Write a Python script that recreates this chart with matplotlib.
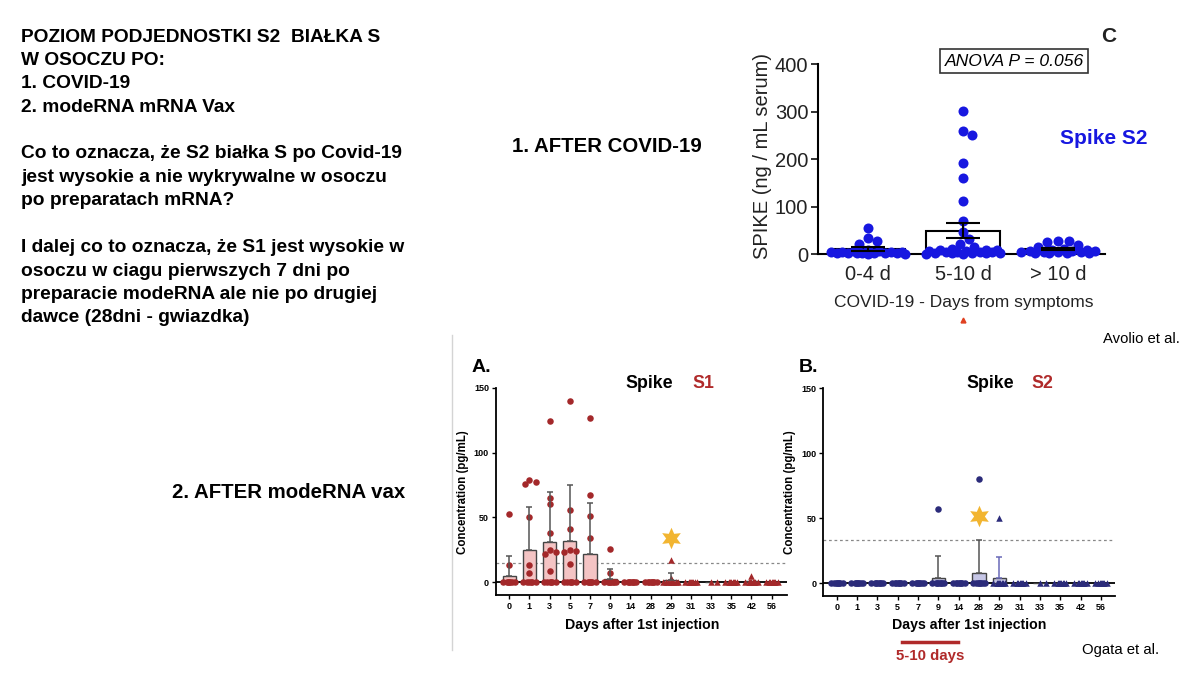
import numpy as np
import matplotlib
matplotlib.use('Agg')
import matplotlib.pyplot as plt
from matplotlib.lines import Line2D

plt.rcParams['font.family'] = ['Liberation Sans', 'DejaVu Sans']

# ---- data ----
intro_lines = [
    'POZIOM PODJEDNOSTKI S2  BIAŁKA S',
    'W OSOCZU PO:',
    '1. COVID-19',
    '2. modeRNA mRNA Vax',
    '',
    'Co to oznacza, że S2 białka S po Covid-19',
    'jest wysokie a nie wykrywalne w osoczu',
    'po preparatach mRNA?',
    '',
    'I dalej co to oznacza, że S1 jest wysokie w',
    'osoczu w ciagu pierwszych 7 dni po',
    'preparacie modeRNA ale nie po drugiej',
    'dawce (28dni - gwiazdka)',
]

covid_groups = ['0-4 d', '5-10 d', '> 10 d']
covid_0_4 = [55, 35, 27, 22, 8, 7, 6, 5, 5, 4, 4, 3, 3, 3, 2, 2, 2, 2, 1, 1]
covid_5_10 = [302, 260, 252, 192, 160, 113, 70, 47, 32, 22, 15, 12, 10, 8, 8, 7,
              6, 5, 5, 4, 4, 3, 3, 2, 2, 2, 1, 1]
covid_10p = [28, 27, 25, 20, 15, 12, 10, 8, 7, 6, 6, 5, 5, 4, 4, 3, 3, 2, 2]
covid_mean = [11, 50, 11]
covid_sem = [4, 15, 2]

days = [0, 1, 3, 5, 7, 9, 14, 28, 29, 31, 33, 35, 42, 56]

s1_bar = [5, 25, 31, 32, 22, 2.5, 0, 0, 1.5, 0, 0, 0, 0.8, 0]
s1_whisker = [20, 58, 70, 75, 61, 10, 0, 0, 7, 0, 0, 0, 0, 0]
s1_points = [
    [53, 13] + [0] * 7,
    [79, 77, 76, 50, 13, 7] + [0] * 6,
    [124, 65, 60, 38, 25, 23, 22, 9] + [0] * 6,
    [140, 56, 41, 25, 24, 23, 14] + [0] * 6,
    [127, 67, 51, 34] + [0] * 7,
    [26, 7] + [0] * 8,
    [0] * 8,
    [0] * 8,
    [17, 3] + [0] * 8,
    [0] * 8,
    [0] * 2,
    [0] * 8,
    [5] + [0] * 8,
    [0] * 8,
]
s1_cutoff = 15
s1_star = (29, 34)

s2_bar = [0, 0, 0, 0, 0, 4, 0, 8, 4, 0, 0, 0, 0, 0]
s2_whisker = [0, 0, 0, 0, 0, 21, 0, 33, 20, 0, 0, 0, 0, 0]
s2_points = [
    [0] * 8, [0] * 8, [0] * 8, [0] * 8, [0] * 8,
    [57] + [0] * 8,
    [0] * 8,
    [80] + [0] * 8,
    [50] + [0] * 8,
    [0] * 8,
    [0] * 2,
    [0] * 8, [0] * 8, [0] * 8,
]
s2_cutoff = 33
s2_star = (28, 52)


def fpos(x, y):
    # pixel position -> figure fraction
    return x / 1200, 1 - y / 675


def swarm(vals, ppx, ppy, diam, maxw, step):
    cands = [0.0]
    k = 1
    while k * step <= maxw:
        cands += [k * step, -k * step]
        k += 1
    placed, offs = [], []
    for v in vals:
        best, best_d = 0.0, -1
        for c in cands:
            d = min((np.hypot((c - px) * ppx, (v - py) * ppy) for px, py in placed), default=1e9)
            if d >= diam:
                best = c
                break
            if d > best_d:
                best, best_d = c, d
        placed.append((best, v))
        offs.append(best)
    return np.array(offs)


fig = plt.figure(figsize=(12, 6.75), dpi=100)

# ---- left text ----
for i, line in enumerate(intro_lines):
    fig.text(*fpos(21, 37 + i * 23.4), line, fontsize=13.8, fontweight='bold', va='center', ha='left')

fig.text(*fpos(607, 147), '1. AFTER COVID-19', fontsize=14.7, fontweight='bold', ha='center', va='center')
fig.text(*fpos(289, 493), '2. AFTER modeRNA vax', fontsize=14.7, fontweight='bold', ha='center', va='center')

# ---- chart C: COVID-19 ----
axc = fig.add_axes([0.6817, 0.6233, 0.2392, 0.2815])
xc = np.arange(len(covid_groups))
axc.bar(xc, covid_mean, width=0.77, color='white', edgecolor='black', lw=1.5, zorder=2)
for i, vals in enumerate([covid_0_4, covid_5_10, covid_10p]):
    v = np.array(sorted(vals, reverse=True), dtype=float)
    off = swarm(v, 95, 0.475, 9, 0.4, 0.03)
    axc.scatter(xc[i] + off, v, s=52, color='#1717e0', zorder=3, clip_on=False, linewidths=0)
axc.errorbar(xc, covid_mean, yerr=covid_sem, fmt='none', ecolor='black', capsize=12,
             elinewidth=1.5, capthick=1.5, zorder=4)
axc.set_xlim(-0.526, 2.495)
axc.set_ylim(0, 400)
axc.set_yticks([0, 100, 200, 300, 400])
axc.set_xticks(xc)
axc.set_xticklabels(covid_groups)
axc.tick_params(axis='y', labelsize=14.5, length=5, width=1.3, pad=2, colors='#222')
axc.tick_params(axis='x', labelsize=14.5, length=0, pad=8, colors='#222')
for s in ['top', 'right']:
    axc.spines[s].set_visible(False)
for s in ['left', 'bottom']:
    axc.spines[s].set_linewidth(1.5)
fig.text(*fpos(762, 156), 'SPIKE (ng / mL serum)', rotation=90, fontsize=14.5, ha='center', va='center', color='#222')
fig.text(*fpos(964, 302), 'COVID-19 - Days from symptoms', fontsize=12.5, ha='center', va='center', color='#222')
fig.text(*fpos(1014, 61), 'ANOVA P = 0.056', fontsize=12.6, style='italic', ha='center', va='center',
         bbox=dict(boxstyle='square,pad=0.25', fc='white', ec='#333', lw=1.2))
fig.text(*fpos(1109, 37), 'C', fontsize=15, fontweight='bold', ha='center', va='center', color='#222')
fig.text(*fpos(1104, 139), 'Spike S2', fontsize=15, fontweight='bold', ha='center', va='center', color='#1717e0')
fig.add_artist(Line2D([963 / 1200], [1 - 320 / 675], marker='^', color='#e04020', markersize=3.5, lw=0))
fig.text(*fpos(1141, 339), 'Avolio et al.', fontsize=10.7, ha='center', va='center')


# ---- panels A and B: vaccine ----
def vax_panel(rect, bars, whiskers, points, cutoff, star, mcolor, fcolor, ecolors):
    ax = fig.add_axes(rect)
    x = np.arange(len(days))
    ax.axhline(0, color='black', lw=1.3, zorder=1)
    ax.axhline(cutoff, color='#888', lw=0.9, ls=(0, (2.2, 2.2)), zorder=1)
    ax.bar(x, bars, width=0.65, color=fcolor, edgecolor='#444', lw=1.0, zorder=2)
    for i in range(len(days)):
        if whiskers[i] > bars[i]:
            ax.errorbar(x[i], bars[i], yerr=[[0], [whiskers[i] - bars[i]]], fmt='none',
                        ecolor=ecolors[i], capsize=2.5, elinewidth=1.1, capthick=1.1, zorder=4)
        v = np.array(points[i], dtype=float)
        off = swarm(v, 20.2, 1.297, 5.5, 0.36, 0.06)
        mk = '^' if days[i] >= 29 else 'o'
        ax.scatter(x[i] + off, v, s=22, marker=mk, color=mcolor, zorder=3, linewidths=0)
    ax.scatter(days.index(star[0]), star[1], marker=(6, 1, 0), s=240, color='#f2b531', zorder=5, linewidths=0)
    ax.set_ylim(-10, 150)
    ax.set_yticks([0, 50, 100, 150])
    ax.set_xticks(x)
    ax.set_xticklabels([str(d) for d in days])
    ax.tick_params(labelsize=6.5, length=3, width=1.0, pad=2)
    for lab in ax.get_xticklabels() + ax.get_yticklabels():
        lab.set_fontweight('bold')
    for s in ['top', 'right']:
        ax.spines[s].set_visible(False)
    for s in ['left', 'bottom']:
        ax.spines[s].set_linewidth(1.3)
    return ax


axa = vax_panel([0.4133, 0.1181, 0.2422, 0.3075], s1_bar, s1_whisker, s1_points, s1_cutoff, s1_star,
                '#a3282a', '#f4c4c4', ['#555'] * len(days))
axa.set_xlim(-0.66, 13.74)
b_ecolors = ['#555'] * len(days)
b_ecolors[days.index(29)] = '#6a6ab8'
axb = vax_panel([0.6861, 0.1170, 0.2431, 0.3077], s2_bar, s2_whisker, s2_points, s2_cutoff, s2_star,
                '#2b2b7a', '#c6c6e6', b_ecolors)
axb.set_xlim(-0.66, 13.70)

fig.text(*fpos(481, 368), 'A.', fontsize=14, fontweight='bold', ha='center', va='center')
fig.text(*fpos(649, 384), 'Spike', fontsize=12.8, fontweight='bold', ha='center', va='center')
fig.text(*fpos(703, 384), 'S1', fontsize=12.8, fontweight='bold', ha='center', va='center', color='#b02a2a')
fig.text(*fpos(463, 492), 'Concentration (pg/mL)', rotation=90, fontsize=8.3, fontweight='bold', ha='center', va='center')
fig.text(*fpos(642, 625), 'Days after 1st injection', fontsize=10.2, fontweight='bold', ha='center', va='center')

fig.text(*fpos(808, 368), 'B.', fontsize=14, fontweight='bold', ha='center', va='center')
fig.text(*fpos(990, 384), 'Spike', fontsize=12.8, fontweight='bold', ha='center', va='center')
fig.text(*fpos(1042, 384), 'S2', fontsize=12.8, fontweight='bold', ha='center', va='center', color='#b02a2a')
fig.text(*fpos(790, 492), 'Concentration (pg/mL)', rotation=90, fontsize=8.3, fontweight='bold', ha='center', va='center')
fig.text(*fpos(969, 625), 'Days after 1st injection', fontsize=10.2, fontweight='bold', ha='center', va='center')

fig.add_artist(Line2D([902 / 1200, 958 / 1200], [1 - 641.5 / 675] * 2, color='#b02a2a', lw=2.5))
fig.text(*fpos(930, 656), '5-10 days', fontsize=10.8, fontweight='bold', ha='center', va='center', color='#b02a2a')
fig.text(*fpos(1121, 650), 'Ogata et al.', fontsize=10.7, ha='center', va='center')

fig.add_artist(Line2D([452 / 1200] * 2, [1 - 335 / 675, 1 - 650 / 675], color='#d4d4d4', lw=1))

fig.savefig('out.png', dpi=100)
